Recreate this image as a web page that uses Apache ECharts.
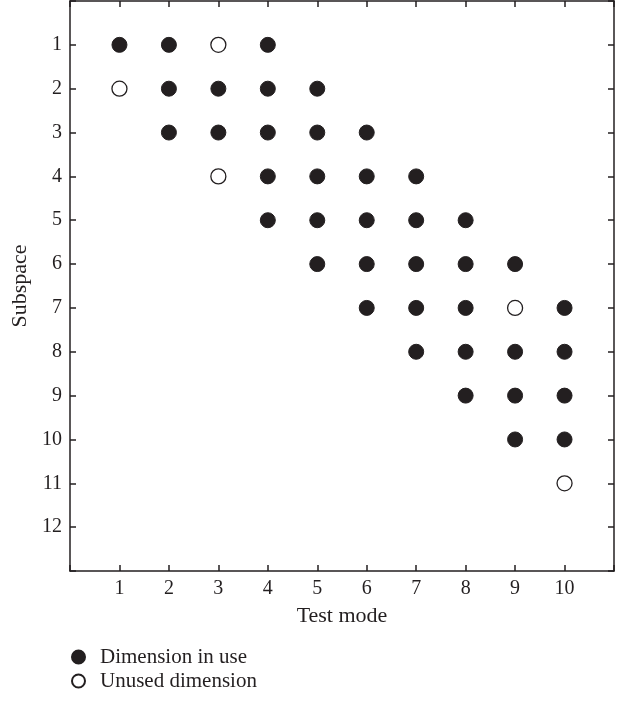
<!DOCTYPE html>
<html>
<head>
<meta charset="utf-8">
<script src="https://cdn.jsdelivr.net/npm/echarts@6/dist/echarts.min.js"></script>
<style>
  html, body { margin: 0; padding: 0; background: #fff; }
  #chart { width: 629px; height: 701px; }
</style>
</head>
<body>
<div id="chart"></div>
<script>
// test mode (x) / subspace (y) pairs
const inUseMode     = [1, 2, 2, 2, 3, 3, 4, 4, 4, 4, 4, 5, 5, 5, 5, 5, 6, 6, 6, 6, 6, 7, 7, 7, 7, 7, 8, 8, 8, 8, 8, 9, 9, 9, 9, 10, 10, 10, 10];
const inUseSubspace = [1, 1, 2, 3, 2, 3, 1, 2, 3, 4, 5, 2, 3, 4, 5, 6, 3, 4, 5, 6, 7, 4, 5, 6, 7, 8, 5, 6, 7, 8, 9, 6, 8, 9, 10, 7, 8, 9, 10];
const unusedMode     = [1, 3, 3, 9, 10];
const unusedSubspace = [2, 1, 4, 7, 11];
const xTicks = [1, 2, 3, 4, 5, 6, 7, 8, 9, 10];
const yTicks = [1, 2, 3, 4, 5, 6, 7, 8, 9, 10, 11, 12];

const ink = '#231f20';
const serif = "'Liberation Serif', 'DejaVu Serif', serif";

const pairs = (xs, ys) => xs.map((x, i) => [x, ys[i]]);

const chart = echarts.init(document.getElementById('chart'));

const baseAxis = {
    axisLine: { show: true, onZero: false, lineStyle: { color: ink, width: 1.5 } },
    axisTick: { show: true, inside: true, length: 6, lineStyle: { color: ink, width: 1.5 } },
    splitLine: { show: false }
};

const option = {
    animation: false,
    grid: { left: 70, right: 15, top: 1, bottom: 130 },
    legend: {
        orient: 'vertical',
        left: 71,
        top: 645,
        padding: 0,
        itemWidth: 13,
        itemHeight: 13,
        itemGap: 0,
        icon: 'circle',
        textStyle: { color: ink, fontFamily: serif, fontSize: 21, lineHeight: 24, padding: [0, 0, 0, 10] },
        data: ['Dimension in use', 'Unused dimension']
    },
    xAxis: [
        Object.assign({}, baseAxis, {
            type: 'value', min: 0, max: 11, interval: 1, position: 'bottom',
            name: 'Test mode', nameLocation: 'middle', nameGap: 34,
            nameTextStyle: { color: ink, fontFamily: serif, fontSize: 22 },
            axisLabel: {
                color: ink, fontFamily: serif, fontSize: 20, margin: 8,
                formatter: v => xTicks.includes(v) ? String(v) : ''
            }
        }),
        Object.assign({}, baseAxis, {
            type: 'value', min: 0, max: 11, interval: 1, position: 'top',
            axisLabel: { show: false }
        })
    ],
    yAxis: [
        Object.assign({}, baseAxis, {
            type: 'value', min: 0, max: 13, interval: 1, inverse: true, position: 'left',
            name: 'Subspace', nameLocation: 'middle', nameGap: 37,
            nameTextStyle: { color: ink, fontFamily: serif, fontSize: 22 },
            axisLabel: {
                color: ink, fontFamily: serif, fontSize: 20, margin: 8,
                formatter: v => yTicks.includes(v) ? String(v) : ''
            }
        }),
        Object.assign({}, baseAxis, {
            type: 'value', min: 0, max: 13, interval: 1, inverse: true, position: 'right',
            axisLabel: { show: false }
        })
    ],
    series: [
        {
            name: 'Dimension in use',
            type: 'scatter',
            symbol: 'circle',
            symbolSize: 15,
            itemStyle: { color: ink, borderColor: ink, borderWidth: 1, opacity: 1 },
            data: pairs(inUseMode, inUseSubspace)
        },
        {
            name: 'Unused dimension',
            type: 'scatter',
            symbol: 'circle',
            symbolSize: 15,
            itemStyle: { color: '#ffffff', borderColor: ink, borderWidth: 1.3, opacity: 1 },
            data: pairs(unusedMode, unusedSubspace)
        }
    ]
};

chart.setOption(option);
window.onresize = function () {
    chart.resize();
};
</script>
</body>
</html>
